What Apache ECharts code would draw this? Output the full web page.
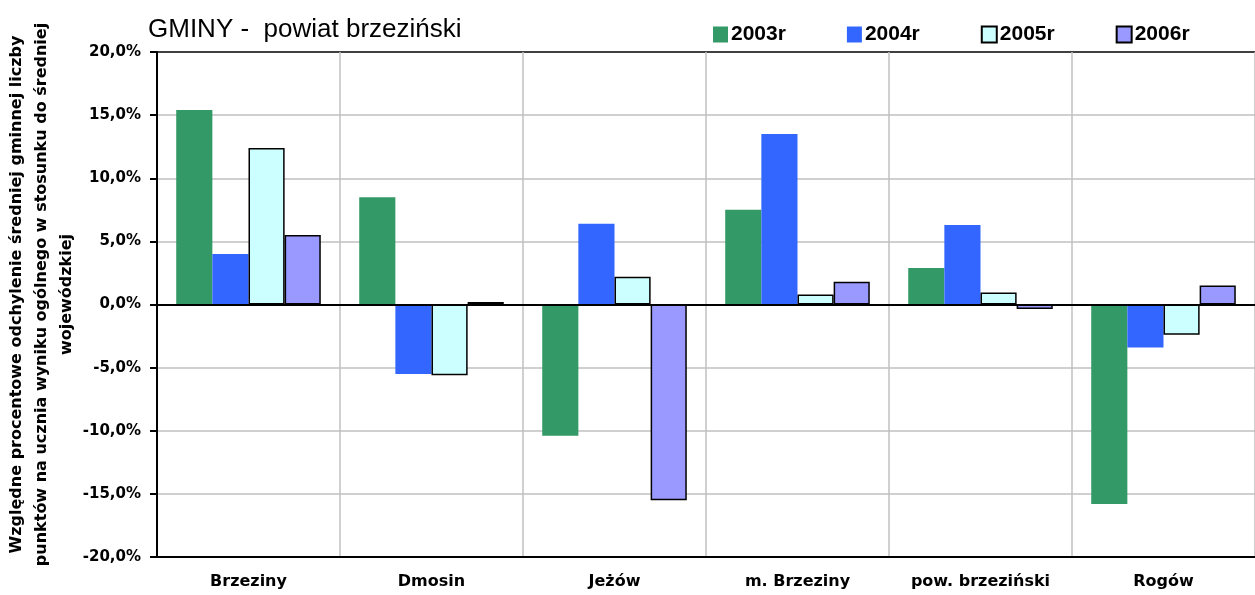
<!DOCTYPE html>
<html>
<head>
<meta charset="utf-8">
<script src="https://cdn.jsdelivr.net/npm/echarts@6/dist/echarts.min.js"></script>
<style>
  html, body { margin: 0; padding: 0; background: #fff; }
  #chart { width: 1255px; height: 595px; }
</style>
</head>
<body>
<div id="chart"></div>
<script>
const categories = ['Brzeziny', 'Dmosin', 'Jeżów', 'm. Brzeziny', 'pow. brzeziński', 'Rogów']
const years = ['2003r', '2004r', '2005r', '2006r']
const values2003 = [15.4, 8.5, -10.4, 7.5, 2.9, -15.8]
const values2004 = [4.0, -5.5, 6.4, 13.5, 6.3, -3.4]
const values2005 = [12.4, -5.6, 2.2, 0.8, 0.95, -2.4]
const values2006 = [5.5, 0.2, -15.5, 1.8, -0.35, 1.5]

const colors = ['#339966', '#3366ff', '#ccffff', '#9999ff']
const bordered = [false, false, true, true]
const allValues = [values2003, values2004, values2005, values2006]

const chart = echarts.init(document.getElementById('chart'))

// gridlines: black at -20, 0, 20, grey in between
const splitColors = []
for (let i = 0; i < 9; i++) {
  splitColors.push(i === 0 || i === 4 || i === 8 ? '#000' : '#c0c0c0')
}

const series = years.map((y, i) => {
  const s = {
    name: y,
    type: 'bar',
    barGap: '0%',
    barCategoryGap: '21%',
    itemStyle: {
      color: colors[i],
      borderColor: '#000',
      borderWidth: bordered[i] ? 1.5 : 0
    },
    data: allValues[i]
  }
  if (i === 3) {
    s.markLine = {
      silent: true,
      symbol: 'none',
      label: { show: false },
      lineStyle: { color: '#000', width: 2, type: 'solid' },
      data: [{ yAxis: 0 }]
    }
  }
  return s
})

chart.setOption({
  animation: false,
  title: {
    text: 'GMINY -  powiat brzeziński',
    left: 143,
    top: 12,
    textStyle: { fontFamily: 'Liberation Sans', fontSize: 26, fontWeight: 'normal', color: '#000' }
  },
  legend: {
    data: years,
    left: 708,
    top: 19,
    icon: 'rect',
    itemWidth: 15,
    itemHeight: 16,
    itemGap: 61,
    textStyle: { fontFamily: 'Liberation Sans', fontSize: 21, fontWeight: 'bold', color: '#000', padding: [0, 0, 0, -2] }
  },
  grid: { left: 157, right: 0, top: 52, bottom: 38, outerBoundsMode: 'none' },
  xAxis: {
    type: 'category',
    data: categories,
    axisLine: { onZero: false, lineStyle: { color: '#000', width: 2 } },
    axisTick: { show: false },
    axisLabel: { margin: 17, fontFamily: 'DejaVu Sans', fontSize: 16, fontWeight: 'bold', color: '#000' },
    splitLine: { show: true, interval: 0, lineStyle: { color: '#c0c0c0', width: 1.5 } }
  },
  yAxis: {
    type: 'value',
    min: -20,
    max: 20,
    interval: 5,
    name: 'Względne procentowe odchylenie średniej gminnej liczby\npunktów na ucznia wyniku ogólnego w stosunku do średniej\nwojewódzkiej',
    nameLocation: 'middle',
    nameMoveOverlap: false,
    nameGap: 78,
    nameTextStyle: {
      fontFamily: 'DejaVu Sans', fontSize: 16, fontWeight: 'bold', color: '#000',
      lineHeight: 25, align: 'center', padding: [0, 0, 0, 20]
    },
    axisLine: { show: true, lineStyle: { color: '#000', width: 2 } },
    axisTick: { show: true, length: 7, lineStyle: { color: '#000', width: 2 } },
    axisLabel: {
      margin: 16,
      fontFamily: 'DejaVu Sans', fontSize: 15, fontWeight: 'bold', color: '#000',
      formatter: v => v.toFixed(1).replace('.', ',') + '%'
    },
    splitLine: { show: true, lineStyle: { color: splitColors, width: 1.5 } }
  },
  series: series
})
</script>
</body>
</html>
